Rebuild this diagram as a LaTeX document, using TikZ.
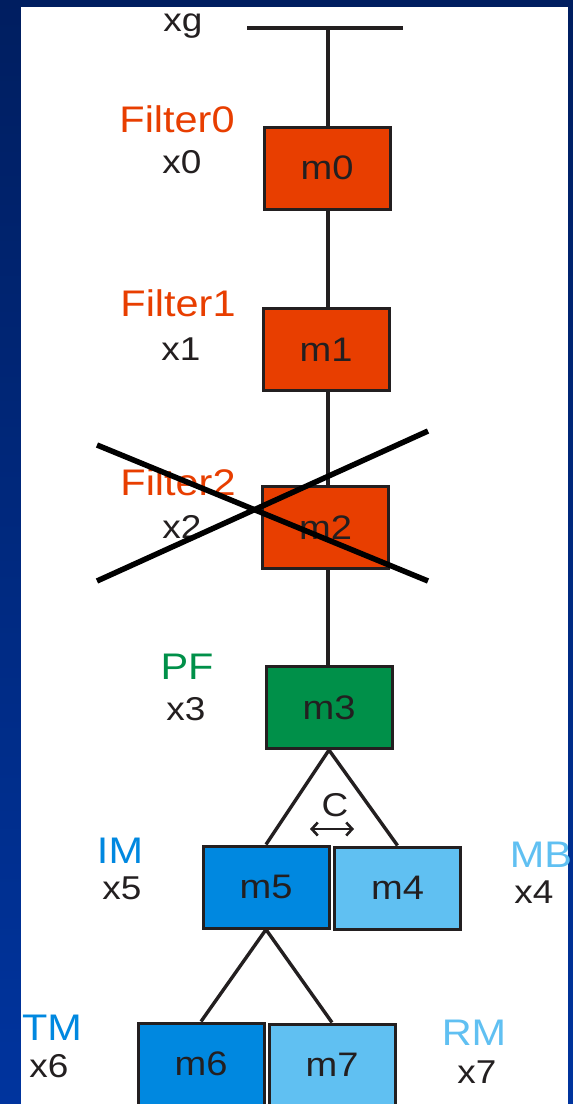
\documentclass[tikz,border=0pt]{standalone}
\usepackage		 {fontspec}
\setmainfont{Liberation Sans}[FakeStretch=1.12]
\usepackage		 {xcolor   }
\usetikzlibrary{arrows.meta}

\definecolor{ink}     {RGB}{35,31,32}
\definecolor{filtred} {RGB}{232,62,0}
\definecolor{pfgreen} {RGB}{0,144,73}
\definecolor{imblue}  {RGB}{0,136,224}
\definecolor{mbblue}  {RGB}{96,192,242}
\definecolor{navytop} {RGB}{0,30,96}
\definecolor{navybot} {RGB}{0,52,158}

\begin{document}
\begin{tikzpicture}[x=1pt,y=-1pt]
  \tikzset{model box/.style={draw=ink,line width=3pt,fill=#1,minimum width=126pt,minimum height=82pt,inner sep=0pt,text=ink,font=\fontsize{34}{34}\selectfont}}
  \tikzset{name label/.style={anchor=base,inner sep=0pt,text=#1,font=\fontsize{37}{37}\selectfont}}
  \tikzset{var label/.style={anchor=base,inner sep=0pt,text=ink,font=\fontsize{33}{33}\selectfont}}
  \tikzset{link/.style={draw=ink,line width=3.4pt}}
  \useasboundingbox (0,0) rectangle (573,1104);
  \clip (0,0) rectangle (573,1104);
  \shade[top color=navytop,bottom color=navybot] (0,0) rectangle (573,1104);
  \fill[white] (21,7) rectangle (568,1104);

  % ground line
  \coordinate (gl) at (247,28);
  \coordinate (gr) at (403,28);
  \coordinate (gtop) at (328,28);
  \node[var label] (xg) at (183,31) {xg};

  % filter chain
  \node[model box=filtred] (m0) at (327,168) {m0};
  \node[model box=filtred] (m1) at (326,349.5) {m1};
  \node[model box=filtred] (m2) at (325.5,527.5) {m2};
  \node[model box=pfgreen] (m3) at (329,707.5) {m3};
  \node[name label=filtred] (f0) at (177,132) {Filter0};
  \node[var label] (x0) at (182,173) {x0};
  \node[name label=filtred] (f1) at (178,316) {Filter1};
  \node[var label] (x1) at (181,360) {x1};
  \node[name label=filtred] (f2) at (178,495) {Filter2};
  \node[var label] (x2) at (182,538) {x2};
  \node[name label=pfgreen] (pf) at (187,679) {PF};
  \node[var label] (x3) at (186,720) {x3};

  % split under PF
  \node[model box=imblue] (m5) at (266,887) {m5};
  \node[model box=mbblue] (m4) at (397.5,888) {m4};
  \node[name label=imblue] (im) at (120,863) {IM};
  \node[var label] (x5) at (122,899) {x5};
  \node[name label=mbblue] (mb) at (541,867) {MB};
  \node[var label] (x4) at (534,903) {x4};
  \node[var label] (c) at (335,816) {C};
  \coordinate (cl) at (310,829);
  \coordinate (cr) at (354,829);

  \node[model box=imblue] (m6) at (201,1064) {m6};
  \node[model box=mbblue] (m7) at (332,1065) {m7};
  \node[name label=imblue] (tm) at (52,1040) {TM};
  \node[var label] (x6) at (49,1077) {x6};
  \node[name label=mbblue] (rm) at (474,1045) {RM};
  \node[var label] (x7) at (477,1083) {x7};

  \draw[link] (gl) -- (gr);
  \draw[link] (gtop) -- (gtop |- m0.north);
  \draw[link] (gtop |- m0.south) -- (gtop |- m1.north);
  \draw[link] (gtop |- m1.south) -- (gtop |- m2.north);
  \draw[link] (gtop |- m2.south) -- (gtop |- m3.north);
  \draw[link] (m3.south) -- (m5.north);
  \draw[link] (m3.south) -- (m4.north);
  \draw[link] (m5.south) -- (m6.north);
  \draw[link] (m5.south) -- (m7.north);
  \draw[link,line width=2.6pt,{Straight Barb[length=6pt,width=13pt]}-{Straight Barb[length=6pt,width=13pt]}] (cl) -- (cr);

  % Filter2 is struck out
  \coordinate (k1) at (97,445);
  \coordinate (k2) at (428,581);
  \coordinate (k3) at (97,581);
  \coordinate (k4) at (428,431);
  \draw[line width=5.5pt,black] (k1) -- (k2);
  \draw[line width=5.5pt,black] (k3) -- (k4);
\end{tikzpicture}
\end{document}
